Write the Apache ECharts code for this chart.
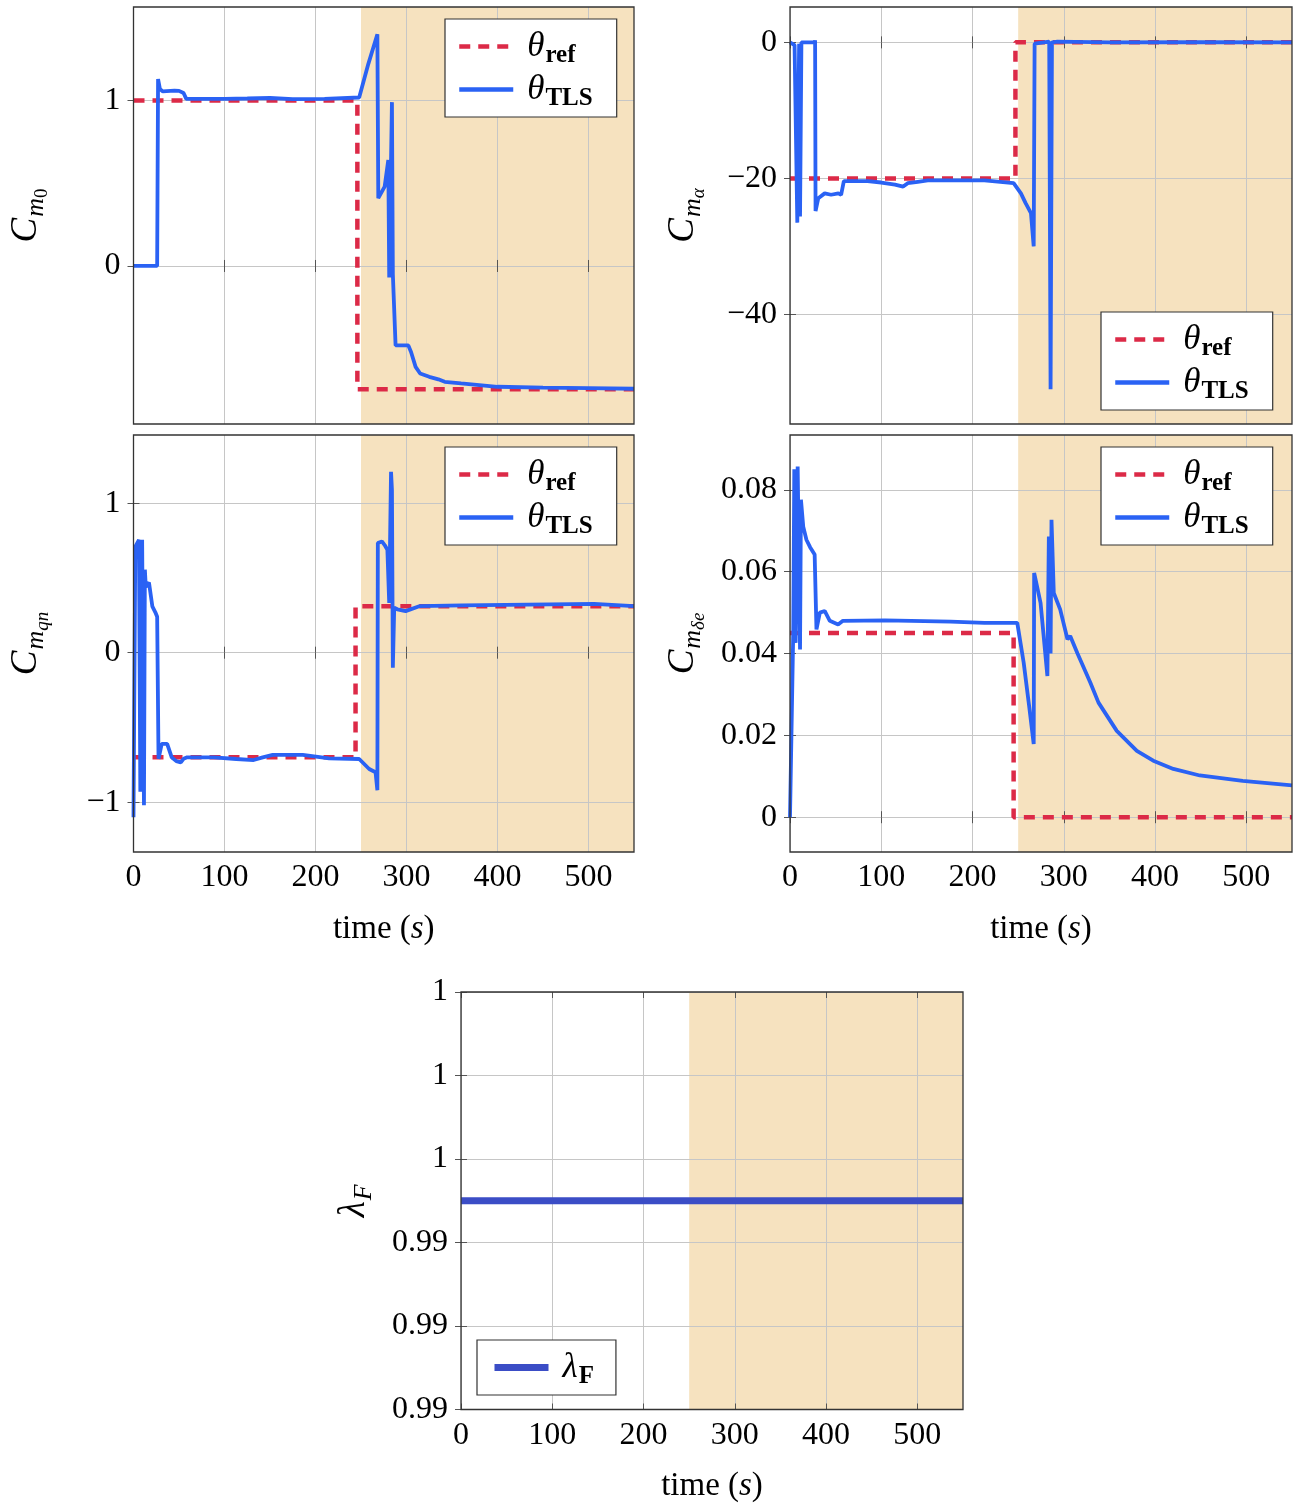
<!DOCTYPE html>
<html>
<head>
<meta charset="utf-8">
<script src="https://cdn.jsdelivr.net/npm/echarts@6/dist/echarts.min.js"></script>
<style>
  html, body { margin: 0; padding: 0; background: #fff; }
  #main { width: 1295px; height: 1504px; }
</style>
</head>
<body>
<div id="main"></div>
<script>
// time axis (s) and the shaded interval
var timeTicks = [0, 100, 200, 300, 400, 500];
var shadeStart = 250, shadeEnd = 550;

// C_m0
var cm0Ticks = [0, 1];
var cm0Ref = [[0, 1], [246, 1], [246, -0.745], [550, -0.745]];
var cm0Tls = [[0, 0], [26, 0], [27, 1.13], [29, 1.07], [32, 1.055], [45, 1.06], [50, 1.058], [55, 1.045],
  [58, 1.01], [100, 1.01], [125, 1.012], [150, 1.015], [175, 1.008], [210, 1.01], [248, 1.018],
  [258, 1.22], [268, 1.40], [269, 0.41], [276, 0.48], [280, 0.64], [281, -0.07], [284, 0.99],
  [285, -0.05], [288, -0.48], [302, -0.48], [305, -0.52], [310, -0.61], [315, -0.65], [325, -0.67],
  [335, -0.685], [342, -0.70], [360, -0.71], [380, -0.72], [400, -0.73], [450, -0.735], [500, -0.738], [550, -0.742]];

// C_m_alpha
var cmaTicks = [-40, -20, 0];
var cmaRef = [[0, -20], [247, -20], [247, 0], [550, 0]];
var cmaTls = [[0, 0], [5, -0.4], [7, -0.6], [8, -26.5], [10, -0.2], [11, -25.6], [12.5, 0], [27, 0],
  [27.5, 0.3], [28, -24.8], [31, -22.9], [38, -22.2], [45, -22.4], [53, -22.2], [56, -22.4], [59, -20.4],
  [85, -20.4], [100, -20.6], [115, -20.9], [124, -21.2], [129, -20.7], [140, -20.5], [151, -20.3],
  [213, -20.3], [245, -20.7], [253, -22.2], [258, -23.6], [264, -25.1], [267, -30], [268, -0.2],
  [284, 0.1], [285.5, -51], [287, 0], [293, 0.1], [350, 0], [450, 0.05], [550, 0]];

// C_m_qn
var cmqTicks = [-1, 0, 1];
var cmqRef = [[0, -0.70], [244, -0.70], [244, 0.311], [550, 0.311]];
var cmqTls = [[0, -1.1], [2, 0.71], [4, 0.72], [6, 0.755], [7.5, -0.93], [9.5, 0.755], [11.5, -1.02],
  [12.5, 0.555], [13.5, 0.44], [17, 0.47], [20.7, 0.31], [24, 0.27], [26, 0.24], [27.5, -0.71],
  [31, -0.61], [33, -0.6], [37, -0.61], [42, -0.70], [47, -0.725], [52, -0.733], [55, -0.71], [59, -0.70],
  [88, -0.70], [113, -0.711], [132, -0.718], [142, -0.70], [153, -0.684], [186, -0.684], [215, -0.707],
  [248, -0.711], [259, -0.778], [266, -0.80], [268, -0.92], [268.5, 0.733], [273, 0.744], [276, 0.72],
  [279, 0.689], [281, 0.333], [283, 1.21], [284, 1.09], [285, -0.1], [286.5, 0.3], [290, 0.29],
  [299, 0.278], [314, 0.311], [361, 0.316], [433, 0.322], [506, 0.327], [550, 0.311]];

// C_m_delta_e
var cmdTicks = [0, 0.02, 0.04, 0.06, 0.08];
var cmdRef = [[0, 0.045], [245, 0.045], [245, 0], [550, 0]];
var cmdTls = [[0, 0], [1.8, 0], [3.6, 0.0459], [4.7, 0.085], [6.2, 0.0426], [8.4, 0.0857], [11, 0.041],
  [12, 0.0776], [14.5, 0.071], [18, 0.0678], [22, 0.066], [27, 0.0642], [29, 0.0459], [32.7, 0.050],
  [38, 0.0504], [43.6, 0.048], [52.7, 0.0471], [58, 0.048], [104, 0.0481], [176, 0.0478], [213, 0.0475],
  [249, 0.0475], [256, 0.0378], [262, 0.0272], [267, 0.0179], [267.5, 0.0597], [274.5, 0.0524],
  [282, 0.0345], [283.6, 0.0686], [285.5, 0.040], [286.5, 0.0727], [289, 0.0548], [296, 0.0508],
  [304, 0.0435], [307, 0.0443], [315, 0.040], [329, 0.0329], [338, 0.028], [358, 0.0211], [380, 0.0162],
  [398, 0.0138], [420, 0.0118], [449, 0.0102], [496, 0.0089], [550, 0.0078]];

// lambda_F
var lamTicks = [0.99, 0.992, 0.994, 0.996, 0.998, 1.0];
var lamValues = [[0, 0.995], [550, 0.995]];

var serif = "'Liberation Serif', 'DejaVu Serif', serif";
var refColor = '#dc2a47';
var tlsColor = '#2a62f4';
var lamColor = '#3b4dc6';
var shadeColor = '#f6e2bf';

var nameRich = {
  c: { fontFamily: serif, fontStyle: 'italic', fontSize: 37, lineHeight: 42, color: '#000' },
  m: { fontFamily: serif, fontStyle: 'italic', fontSize: 26, lineHeight: 26, padding: [20, 0, 0, 1], color: '#000' },
  z: { fontFamily: serif, fontStyle: 'italic', fontSize: 19, lineHeight: 19, padding: [32, 0, 0, 0], color: '#000' },
  zr: { fontFamily: serif, fontSize: 19, lineHeight: 19, padding: [32, 0, 0, 0], color: '#000' },
  n: { fontFamily: serif, fontSize: 33, lineHeight: 36, color: '#000' },
  i: { fontFamily: serif, fontStyle: 'italic', fontSize: 33, lineHeight: 36, color: '#000' }
};

var legendRich = {
  t: { fontFamily: serif, fontStyle: 'italic', fontSize: 35, lineHeight: 44, padding: [0, 0, 0, 9], color: '#000' },
  s: { fontFamily: serif, fontWeight: 'bold', fontSize: 25, lineHeight: 25, padding: [18, 0, 0, 1], color: '#000' }
};

function legendFmt(name) {
  if (name === 'θ_ref') return '{t|θ}{s|ref}';
  if (name === 'θ_TLS') return '{t|θ}{s|TLS}';
  return '{t|λ}{s|F}';
}

function fmtTick(v) {
  if (v > 0.985 && v < 1.005) return String(parseFloat(v.toFixed(2)));
  return String(v).replace('-', '\u2212');
}

var panels = [
  { title: '{c|C}{m|m}{zr|0}', ticks: cm0Ticks, min: -0.955, max: 1.565, ref: cm0Ref, tls: cm0Tls,
    box: { left: 133, top: 7, width: 501, height: 417 }, xLabels: false, legendPos: { left: 445, top: 19 } },
  { title: '{c|C}{m|m}{z|α}', ticks: cmaTicks, min: -56.1, max: 5.2, ref: cmaRef, tls: cmaTls,
    box: { left: 790, top: 7, width: 502, height: 417 }, xLabels: false, legendPos: { left: 1101, top: 312 } },
  { title: '{c|C}{m|m}{z|qn}', ticks: cmqTicks, min: -1.333, max: 1.456, ref: cmqRef, tls: cmqTls,
    box: { left: 133, top: 435, width: 501, height: 417 }, xLabels: true, legendPos: { left: 445, top: 447 } },
  { title: '{c|C}{m|m}{z|δe}', ticks: cmdTicks, min: -0.0085, max: 0.0934, ref: cmdRef, tls: cmdTls,
    box: { left: 790, top: 435, width: 502, height: 417 }, xLabels: true, legendPos: { left: 1101, top: 447 } },
  { title: '{c|λ}{m|F}', ticks: lamTicks, min: 0.99, max: 1.0, lam: lamValues,
    box: { left: 461, top: 992, width: 502, height: 418 }, xLabels: true, legendPos: { left: 477, top: 1340 } }
];

var tickStyle = { show: true, inside: true, length: 6, lineStyle: { color: '#555', width: 1 } };
var splitStyle = { show: true, lineStyle: { color: '#c6c6c6', width: 1 } };

var grids = [], xAxes = [], yAxes = [], series = [], legends = [];
var mirrorX = [], mirrorY = [];

panels.forEach(function (p, i) {
  grids.push({
    left: p.box.left, top: p.box.top, width: p.box.width, height: p.box.height,
    show: true, backgroundColor: 'transparent', borderColor: '#333', borderWidth: 1.3, z: 5
  });
  xAxes.push({
    gridIndex: i, type: 'value', min: 0, max: 550, position: 'bottom', z: 3,
    axisLine: { show: false },
    axisTick: Object.assign({ customValues: timeTicks }, tickStyle),
    axisLabel: { show: p.xLabels, customValues: timeTicks, margin: 10, fontSize: 32, fontFamily: serif, color: '#000' },
    splitLine: splitStyle,
    name: p.xLabels ? '{n|time (}{i|s}{n|)}' : '',
    nameLocation: 'middle', nameGap: 59,
    nameTextStyle: { rich: nameRich }
  });
  mirrorX.push({
    gridIndex: i, type: 'value', min: 0, max: 550, position: 'top', z: 3,
    axisLine: { show: false },
    axisTick: Object.assign({ customValues: timeTicks }, tickStyle),
    axisLabel: { show: false, customValues: timeTicks },
    splitLine: { show: false }
  });
  yAxes.push({
    gridIndex: i, type: 'value', min: p.min, max: p.max, position: 'left', z: 3,
    axisLine: { show: false },
    axisTick: Object.assign({ customValues: p.ticks }, tickStyle),
    axisLabel: { customValues: p.ticks, margin: 13, fontSize: 32, fontFamily: serif, color: '#000', formatter: fmtTick },
    splitLine: splitStyle,
    name: p.title, nameLocation: 'middle', nameRotate: 90, nameGap: 86,
    nameTextStyle: { rich: nameRich }
  });
  mirrorY.push({
    gridIndex: i, type: 'value', min: p.min, max: p.max, position: 'right', z: 3,
    axisLine: { show: false },
    axisTick: Object.assign({ customValues: p.ticks }, tickStyle),
    axisLabel: { show: false, customValues: p.ticks },
    splitLine: { show: false }
  });

  var shade = {
    silent: true,
    itemStyle: { color: shadeColor, opacity: 1 },
    data: [[{ xAxis: shadeStart }, { xAxis: shadeEnd }]]
  };

  if (p.lam) {
    series.push({
      name: 'λ_F', type: 'line', xAxisIndex: i, yAxisIndex: i, data: p.lam,
      symbol: 'none', showSymbol: false, lineStyle: { color: lamColor, width: 7 }, itemStyle: { color: lamColor },
      markArea: shade
    });
  } else {
    series.push({
      name: 'θ_ref', type: 'line', xAxisIndex: i, yAxisIndex: i, data: p.ref,
      symbol: 'none', showSymbol: false, lineStyle: { color: refColor, width: 4.5, type: [11, 8] }, itemStyle: { color: refColor },
      markArea: shade
    });
    series.push({
      name: 'θ_TLS', type: 'line', xAxisIndex: i, yAxisIndex: i, data: p.tls,
      symbol: 'none', showSymbol: false, lineStyle: { color: tlsColor, width: 3.8 }, itemStyle: { color: tlsColor }
    });
  }

  legends.push({
    data: p.lam ? ['λ_F'] : ['θ_ref', 'θ_TLS'],
    orient: 'vertical', left: p.legendPos.left, top: p.legendPos.top,
    itemWidth: 54, itemHeight: 14, itemGap: 0,
    padding: p.lam ? [6, 22, 6, 14] : [6, 24, 6, 12],
    backgroundColor: '#fff', borderColor: '#333', borderWidth: 1.2, borderRadius: 0,
    selectedMode: false,
    itemStyle: { opacity: 0, borderWidth: 0 },
    lineStyle: { width: p.lam ? 7 : 4.5 },
    formatter: legendFmt,
    textStyle: { rich: legendRich },
    z: 6
  });
});

var chart = echarts.init(document.getElementById('main'), null, { renderer: 'canvas' });
chart.setOption({
  animation: false,
  backgroundColor: '#fff',
  grid: grids,
  xAxis: xAxes.concat(mirrorX),
  yAxis: yAxes.concat(mirrorY),
  legend: legends,
  series: series
});
</script>
</body>
</html>
